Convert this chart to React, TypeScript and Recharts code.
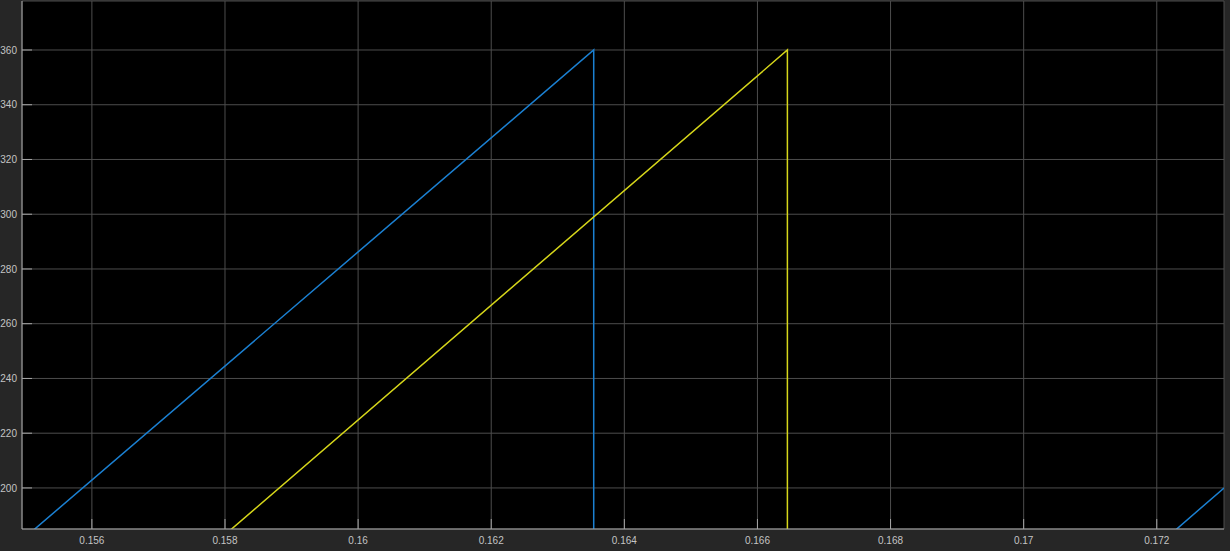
import React from "react";
import { LineChart, Line, XAxis, YAxis, CartesianGrid } from "recharts";

// Time (s) and angle (deg) vertices
const blueTime = [0.15495, 0.16354, 0.16354, 0.17301];
const blueAngle = [181, 360, 0, 200];
const yellowTime = [0.15495, 0.16645, 0.16645, 0.17301];
const yellowAngle = [119, 360, 0, 137];

const xTicks = [0.156, 0.158, 0.16, 0.162, 0.164, 0.166, 0.168, 0.17, 0.172];
const xTickLabels = ["0.156", "0.158", "0.16", "0.162", "0.164", "0.166", "0.168", "0.17", "0.172"];
const yTicks = [200, 220, 240, 260, 280, 300, 320, 340, 360];

const xDomain = [0.15495, 0.17301];
const yDomain = [185, 377.9];

const blueData = blueTime.map((t, i) => ({ t, v: blueAngle[i] }));
const yellowData = yellowTime.map((t, i) => ({ t, v: yellowAngle[i] }));

const BORDER = "#a6a6a6";
const LABEL = "#c4c4c4";
const FONT = "'Liberation Sans', Arial, sans-serif";

const XTick = (props: any) => {
  const { x, y, payload, index } = props;
  return (
    <g>
      <line x1={x} x2={x} y1={y} y2={y - 10} stroke={BORDER} strokeWidth={1} />
      <text x={x} y={y + 15} textAnchor="middle" fill={LABEL} fontSize={10} fontFamily={FONT}>
        {xTickLabels[index] ?? String(payload.value)}
      </text>
    </g>
  );
};

const YTick = (props: any) => {
  const { x, y, payload } = props;
  return (
    <g>
      <line x1={x + 5} x2={x + 15} y1={y} y2={y} stroke={BORDER} strokeWidth={1} />
      <text x={x} y={y + 3.6} textAnchor="end" fill={LABEL} fontSize={10} fontFamily={FONT}>
        {payload.value}
      </text>
    </g>
  );
};

export default function App() {
  return (
    <div
      style={{
        position: "absolute",
        left: 0,
        top: 0,
        width: 1230,
        height: 551,
        background: "#262626",
      }}
    >
      <LineChart
        width={1230}
        height={551}
        margin={{ top: 1, right: 6, bottom: 0, left: 0 }}
      >
        <CartesianGrid stroke="#4d4d4d" fill="#000000" />
        <XAxis
          xAxisId="0"
          dataKey="t"
          type="number"
          domain={xDomain}
          ticks={xTicks}
          allowDataOverflow
          height={22}
          tickSize={0}
          tickMargin={0}
          tickLine={false}
          axisLine={{ stroke: BORDER }}
          tick={<XTick />}
          interval={0}
        />
        <XAxis
          xAxisId="top"
          orientation="top"
          dataKey="t"
          type="number"
          domain={xDomain}
          ticks={xTicks}
          allowDataOverflow
          height={0}
          mirror
          tickSize={10}
          tick={false}
          tickLine={{ stroke: BORDER }}
          axisLine={{ stroke: BORDER }}
          interval={0}
        />
        <YAxis
          yAxisId="0"
          type="number"
          domain={yDomain}
          ticks={yTicks}
          allowDataOverflow
          width={22}
          tickSize={0}
          tickMargin={5}
          tickLine={false}
          axisLine={{ stroke: BORDER }}
          tick={<YTick />}
          interval={0}
        />
        <YAxis
          yAxisId="right"
          orientation="right"
          type="number"
          domain={yDomain}
          ticks={yTicks}
          allowDataOverflow
          width={0}
          mirror
          tickSize={10}
          tick={false}
          tickLine={{ stroke: BORDER }}
          axisLine={{ stroke: BORDER }}
          interval={0}
        />
        <Line
          xAxisId="0"
          yAxisId="0"
          data={blueData}
          dataKey="v"
          type="linear"
          stroke="#1b80d2"
          strokeWidth={1.5}
          dot={false}
          isAnimationActive={false}
        />
        <Line
          xAxisId="0"
          yAxisId="0"
          data={yellowData}
          dataKey="v"
          type="linear"
          stroke="#d6d61a"
          strokeWidth={1.5}
          dot={false}
          isAnimationActive={false}
        />
      </LineChart>
    </div>
  );
}
